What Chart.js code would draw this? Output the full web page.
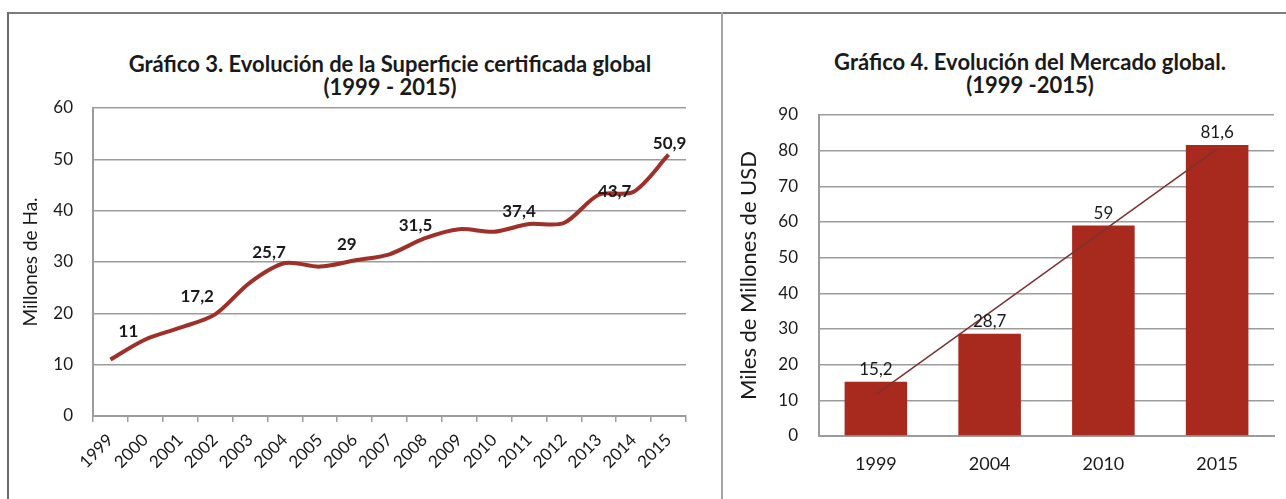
<!DOCTYPE html>
<html>
<head>
<meta charset="utf-8">
<script src="https://cdn.jsdelivr.net/npm/chart.js@4.4.1/dist/chart.umd.min.js"></script>
<style>
  html, body { margin:0; padding:0; background:#fff; }
  body { width:1286px; height:499px; position:relative; overflow:hidden; font-family:Lato, sans-serif; }
  .rule { position:absolute; }
  #topRule { left:8px; top:12px; width:1278px; height:2px; background:#7c7c7c; }
  #leftRule { left:7px; top:12px; width:2px; height:487px; background:#6a6a6a; }
  #midRule { left:721px; top:12px; width:2px; height:487px; background:#a4a4a4; }
  .box { position:absolute; }
  #box3 { left:8px; top:13px; width:712px; height:486px; }
  #box4 { left:724px; top:13px; width:562px; height:486px; }
  .ttl { position:absolute; transform:translateX(-50%); text-align:center; white-space:nowrap;
         font-weight:bold; font-size:22px; line-height:23px; color:#1a1a1a; }
</style>
</head>
<body>
<div class="rule" id="topRule"></div>
<div class="rule" id="leftRule"></div>
<div class="rule" id="midRule"></div>

<div class="ttl" id="ttl3" style="left:390px; top:52px;">Gráfico 3. Evolución de la Superficie certificada global<br>(1999 - 2015)</div>
<div class="ttl" id="ttl4" style="left:1030px; top:50px;">Gráfico 4. Evolución del Mercado global.<br>(1999 -2015)</div>

<div class="box" id="box3"><canvas id="chart3"></canvas></div>
<div class="box" id="box4"><canvas id="chart4"></canvas></div>

<script>
// --- Gráfico 3: superficie certificada (millones de ha)
const years3 = ["1999","2000","2001","2002","2003","2004","2005","2006","2007","2008",
                "2009","2010","2011","2012","2013","2014","2015"];
const superficie = [11, 14.9, 17.2, 19.8, 26, 29.8, 29.1, 30.3, 31.5, 34.6,
                    36.4, 35.9, 37.4, 37.6, 43.1, 43.7, 50.9];
const labelIdx3 = [0, 2, 4, 6, 8, 12, 15, 16];
const labelText3 = ["11", "17,2", "25,7", "29", "31,5", "37,4", "43,7", "50,9"];

// --- Gráfico 4: mercado global (miles de millones USD)
const years4 = ["1999", "2004", "2010", "2015"];
const mercado = [15.2, 28.7, 59, 81.6];
const tendencia = [11.7, 34.6, 57.6, 80.5];
const labelText4 = ["15,2", "28,7", "59", "81,6"];

// label nudges (px), roughly where the labels sit in the original
const nudge3 = [[18,-28],[17,-31],[19,-30],[27,-22],[26,-29],[-10,-12],[-19,0],[1,-11]];

const ink = "#1a1a1a";
const gridGrey = "#9c9c9c";

const valueLabels = {
  id: "valueLabels",
  afterDatasetsDraw(chart, args, opts) {
    const { ctx, scales } = chart;
    ctx.save();
    ctx.font = opts.font;
    ctx.fillStyle = ink;
    ctx.textAlign = "center";
    ctx.textBaseline = "middle";
    opts.idx.forEach((i, k) => {
      const x = scales.x.getPixelForValue(i);
      const y = scales.y.getPixelForValue(opts.values[i]);
      const d = opts.nudge(k);
      ctx.fillText(opts.text[k], x + d[0], y + d[1]);
    });
    ctx.restore();
  }
};

Chart.defaults.font.family = "Lato, sans-serif";
Chart.defaults.color = ink;

new Chart(document.getElementById("chart3"), {
  type: "line",
  data: {
    labels: years3,
    datasets: [{
      data: superficie,
      borderColor: "#9f2f29",
      borderWidth: 4,
      tension: 0.3,
      pointRadius: 0,
      fill: false
    }]
  },
  plugins: [valueLabels],
  options: {
    responsive: true,
    maintainAspectRatio: false,
    animation: false,
    layout: { padding: { top: 95, right: 34, left: 0, bottom: 0 } },
    plugins: {
      legend: { display: false },
      tooltip: { enabled: false },
      valueLabels: {
        font: "bold 17px Lato",
        idx: labelIdx3,
        text: labelText3,
        values: superficie,
        nudge: k => nudge3[k]
      }
    },
    scales: {
      x: {
        offset: true,
        grid: { offset: true, drawOnChartArea: false, drawTicks: true, tickLength: 6, color: gridGrey, lineWidth: 1.5 },
        border: { color: gridGrey, width: 2 },
        ticks: { minRotation: 45, maxRotation: 45, autoSkip: false, padding: 8, font: { size: 17 } },
        afterFit: s => { s.height = 83; }
      },
      y: {
        min: 0, max: 60,
        ticks: { stepSize: 10, padding: 20, font: { size: 17 } },
        grid: { color: gridGrey, lineWidth: 1.5, drawTicks: false },
        border: { color: gridGrey, width: 2 },
        title: { display: true, text: "Millones de Ha.", font: { size: 19 }, padding: { top: 11, bottom: 0 } },
        afterFit: s => { s.width = 85; }
      }
    }
  }
});

new Chart(document.getElementById("chart4"), {
  type: "bar",
  data: {
    labels: years4,
    datasets: [
      {
        type: "line",
        data: tendencia,
        borderColor: "#7e3131",
        borderWidth: 1.5,
        pointRadius: 0,
        tension: 0,
        fill: false,
        order: 0
      },
      {
        data: mercado,
        backgroundColor: "#a82a1f",
        barPercentage: 0.55,
        categoryPercentage: 1,
        order: 1
      }
    ]
  },
  plugins: [valueLabels],
  options: {
    responsive: true,
    maintainAspectRatio: false,
    animation: false,
    layout: { padding: { top: 102, right: 12, left: 0, bottom: 0 } },
    plugins: {
      legend: { display: false },
      tooltip: { enabled: false },
      valueLabels: {
        font: "17px Lato",
        idx: [0, 1, 2, 3],
        text: labelText4,
        values: mercado,
        nudge: () => [0, -12]
      }
    },
    scales: {
      x: {
        grid: { drawOnChartArea: false, drawTicks: false },
        border: { color: gridGrey, width: 2 },
        ticks: { padding: 17, font: { size: 18 } },
        afterFit: s => { s.height = 63; }
      },
      y: {
        min: 0, max: 90,
        ticks: { stepSize: 10, padding: 21, font: { size: 17 } },
        grid: { color: gridGrey, lineWidth: 1.5, drawTicks: false },
        border: { color: gridGrey, width: 2 },
        title: { display: true, text: "Miles de Millones de USD", font: { size: 22 }, padding: { top: 12, bottom: 0 } },
        afterFit: s => { s.width = 95; }
      }
    }
  }
});
</script>
</body>
</html>
